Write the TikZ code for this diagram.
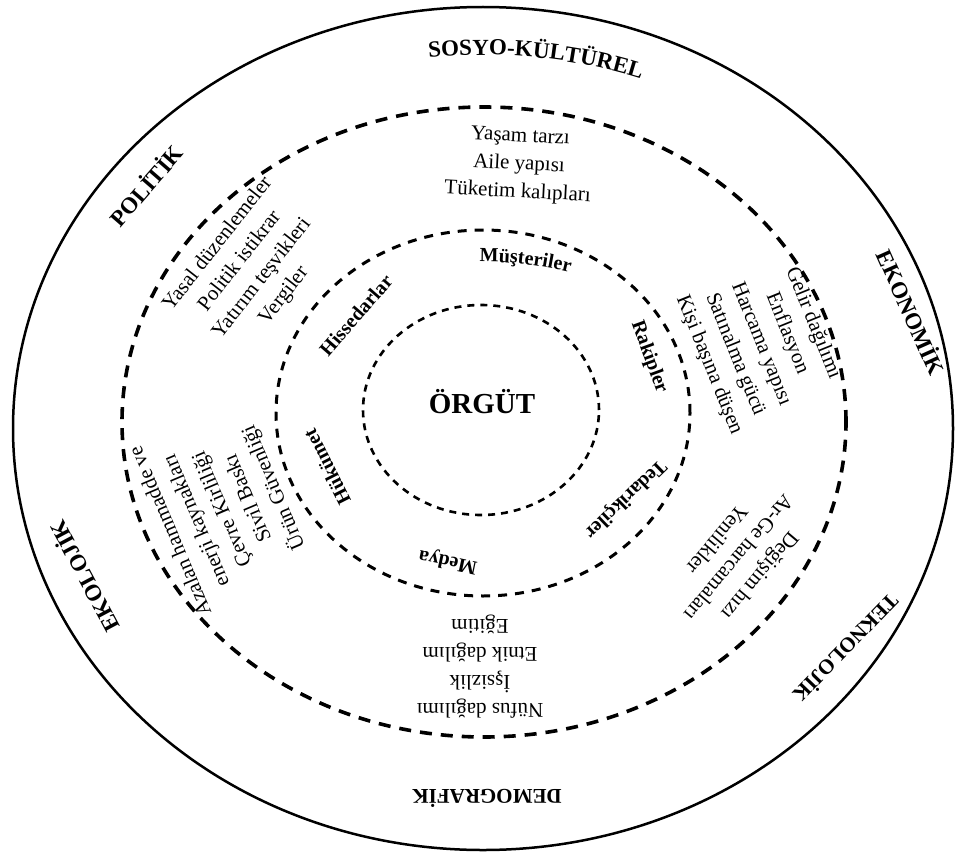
\documentclass[tikz,border=0pt]{standalone}
\usepackage{fontspec}
\setmainfont{Liberation Serif}
\usetikzlibrary{decorations.text}
\begin{document}
\begin{tikzpicture}[x=1pt,y=-1pt,
  catlabel/.style={font=\bfseries\fontsize{23}{28}\selectfont, inner sep=0pt},
  ringlabel/.style={font=\bfseries\fontsize{20}{24}\selectfont, inner sep=0pt},
  factortext/.style={font=\fontsize{21}{28}\selectfont, align=center, inner sep=0pt},
  coretext/.style={font=\bfseries\fontsize{29}{32}\selectfont, inner sep=0pt},
  outerring/.style={line width=2.5pt},
  middlering/.style={line width=3.6pt, dash pattern=on 12pt off 9pt},
  secondring/.style={line width=3pt, dash pattern=on 9pt off 8pt},
  innerring/.style={line width=2.6pt, dash pattern=on 7pt off 6pt},
  arctext/.style={decorate, decoration={text along path, text align=center, text={#1}}}]
\useasboundingbox (0,0) rectangle (958,859);
\fill[white] (0,0) rectangle (958,859);

% rings
\draw[outerring]  (483,428.5) ellipse [x radius=470pt, y radius=421.5pt];
\draw[middlering] (484,422)   ellipse [x radius=362pt, y radius=315pt];
\draw[secondring] (483,413)   ellipse [x radius=207pt, y radius=183pt];
\draw[innerring]  (481,410)   ellipse [x radius=118pt, y radius=105pt];

% centre
\node[coretext] (orgut) at (482,402) {ÖRGÜT};

% ring labels
\path[arctext={|\bfseries\fontsize{20}{24}\selectfont|Müşteriler}]
  plot[domain=72:130, samples=30, smooth] ({483-238*cos(\x)},{413-151*sin(\x)});
\node[ringlabel, rotate=49]   (hisse)   at (356,315) {Hissedarlar};
\node[ringlabel, rotate=-70]  (rakip)   at (649,357) {Rakipler};
\node[ringlabel, rotate=-136] (tedarik) at (625,499) {Tedarikçiler};
\node[ringlabel, rotate=168]  (medya)   at (448,561) {Medya};
\node[ringlabel, rotate=117]  (hukumet) at (327,467) {Hükümet};

% category labels
\path[arctext={|\bfseries\fontsize{23}{28}\selectfont|SOSYO-KÜLTÜREL}]
  plot[domain=70:124, samples=30, smooth] ({483-450*cos(\x)},{428.5-373.5*sin(\x)});
\node[catlabel, rotate=49]   (politik)    at (145,185) {POLİTİK};
\node[catlabel, rotate=-66]  (ekonomik)   at (912,312) {EKONOMİK};
\node[catlabel, rotate=-134, font=\bfseries\fontsize{21}{26}\selectfont] (teknolojik) at (847,649) {TEKNOLOJİK};
\node[catlabel, rotate=180, font=\bfseries\fontsize{21}{26}\selectfont]  (demografik) at (487,798) {DEMOGRAFİK};
\node[catlabel, rotate=118]  (ekolojik)   at (83,577)  {EKOLOJİK};

% factor lists
\node[factortext, rotate=-3]  (fsosyo) at (519,165) {Yaşam tarzı\\Aile yapısı\\Tüketim kalıpları};
\node[factortext, rotate=52]  (fpolitik) at (251,270) {Yasal düzenlemeler\\Politik istikrar\\Yatırım teşvikleri\\Vergiler};
\node[factortext, rotate=-68] (fekonomik) at (761,344) {Gelir dağılımı\\Enflasyon\\Harcama yapısı\\Satınalma gücü\\Kişi başına düşen};
\node[factortext, rotate=113] (fekolojik) at (223,509) {Azalan hammadde ve\\enerji kaynakları\\Çevre Kirliliği\\Sivil Baskı\\Ürün Güvenliği};
\node[factortext, rotate=230] (fteknolojik) at (739,558) {Değişim hızı\\Ar-Ge harcamaları\\Yenilikler};
\node[factortext, rotate=180] (fdemografik) at (480,667) {Nüfus dağılımı\\İşsizlik\\Etnik dağılım\\Eğitim};
\end{tikzpicture}
\end{document}
